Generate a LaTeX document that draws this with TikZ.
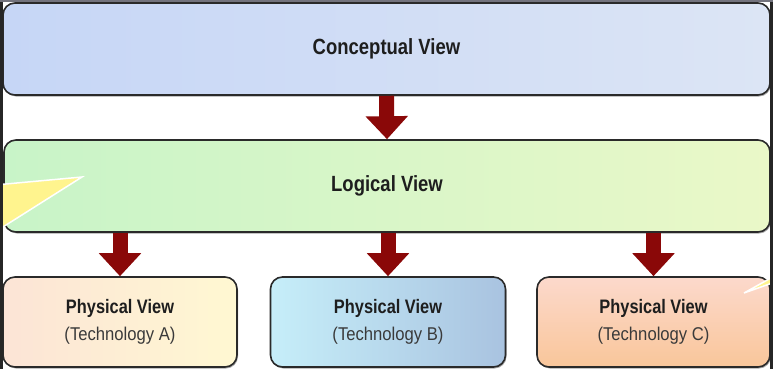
\documentclass[tikz,border=0pt]{standalone}
\usepackage{fontspec}
\newfontfamily\nar[FakeStretch=0.84]{Liberation Sans}
\newfontfamily\narr[FakeStretch=0.9]{Liberation Sans}
\usetikzlibrary{arrows.meta,shadows}
\definecolor{txt}{HTML}{1E1E1E}
\definecolor{subtxt}{HTML}{3A3A3A}
\definecolor{edge}{HTML}{2A2A2A}
\definecolor{arrowred}{HTML}{8A0808}
\definecolor{note}{HTML}{FFF48E}
\tikzset{
  viewbox/.style={draw=edge, line width=1.6pt, rounded corners=12pt, text=txt,
    align=center, inner sep=0pt,
    general shadow={shadow xshift=1pt, shadow yshift=-1.5pt, fill=black!35}},
  bigtitle/.style={font=\nar\bfseries\fontsize{22}{26}\selectfont},
  smalltitle/.style={font=\fontsize{19}{27}\selectfont},
  flow/.style={draw=arrowred, line width=15pt,
    -{Triangle[width=41pt,length=23pt]}},
  callout/.style={fill=note, draw=white, line width=1.5pt, line join=miter}
}
\newcommand\physlabel[1]{{\nar\bfseries\fontsize{19.5}{27}\selectfont Physical View}\\{\narr\color{subtxt}\fontsize{18.5}{27}\selectfont (Technology #1)}}
\begin{document}
\begin{tikzpicture}[x=1pt,y=-1pt]
\useasboundingbox (0,0) rectangle (773,369);
\fill[white] (0,0) rectangle (773,369);
% boxes
\node[viewbox, bigtitle, left color={rgb,255:red,198;green,214;blue,246}, right color={rgb,255:red,220;green,229;blue,245},
  minimum width=767pt, minimum height=92pt] (concept) at (386.5,49) {Conceptual View};
\node[viewbox, bigtitle, left color={rgb,255:red,200;green,244;blue,200}, right color={rgb,255:red,234;green,248;blue,200},
  minimum width=766pt, minimum height=92pt] (logical) at (387,186) {Logical View};
\node[viewbox, smalltitle, left color={rgb,255:red,252;green,228;blue,214}, right color={rgb,255:red,255;green,248;blue,210},
  minimum width=234pt, minimum height=90pt] (physA) at (120,322) {\physlabel{A}};
\node[viewbox, smalltitle, left color={rgb,255:red,198;green,238;blue,249}, right color={rgb,255:red,169;green,195;blue,224},
  minimum width=235pt, minimum height=90pt] (physB) at (388,322) {\physlabel{B}};
\node[viewbox, smalltitle, top color={rgb,255:red,252;green,217;blue,204}, bottom color={rgb,255:red,249;green,198;blue,154},
  minimum width=233pt, minimum height=90pt] (physC) at (653.5,322) {\physlabel{C}};
% connectors
\draw[flow] (concept.south) -- (logical.north);
\draw[flow] (logical.south -| physA.north) -- (physA.north);
\draw[flow] (logical.south -| physB.north) -- (physB.north);
\draw[flow] (logical.south -| physC.north) -- (physC.north);
% partial callouts
\draw[callout] (-5,185) -- (82,177) -- (-5,232);
\draw[callout] (744,293) -- (778,281) -- (778,274) -- cycle;
% screenshot frame
\fill[black!85] (0,0) rectangle (3,369);
\fill[black!85] (770,0) rectangle (773,369);
\fill[black!60!blue!10!gray] (0,0) rectangle (773,2.5);
\end{tikzpicture}
\end{document}
